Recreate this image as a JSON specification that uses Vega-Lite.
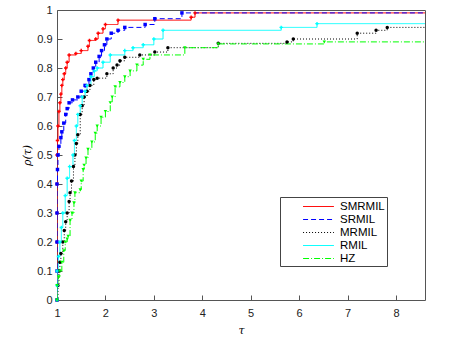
{
  "$schema": "https://vega.github.io/schema/vega-lite/v6.json",
  "width": 368,
  "height": 290,
  "autosize": {"type": "none"},
  "padding": {"left": 57, "top": 10, "right": 31, "bottom": 41},
  "background": "white",
  "config": {
    "view": {"stroke": "#555555", "strokeWidth": 1},
    "font": "Liberation Sans",
    "axis": {"domain": false, "grid": false, "tickColor": "#555555", "labelColor": "#222222", "labelFontSize": 11, "labelFont": "Liberation Sans", "labelOverlap": false}
  },
  "datasets": {
    "pp": [
      {"m":"SMRMIL","t":1.00,"r":0.00},{"m":"SMRMIL","t":1.00,"r":0.10},{"m":"SMRMIL","t":1.00,"r":0.20},{"m":"SMRMIL","t":1.00,"r":0.30},{"m":"SMRMIL","t":1.00,"r":0.40},{"m":"SMRMIL","t":1.00,"r":0.50},{"m":"SMRMIL","t":1.01,"r":0.55},{"m":"SMRMIL","t":1.02,"r":0.60},{"m":"SMRMIL","t":1.04,"r":0.65},{"m":"SMRMIL","t":1.06,"r":0.68},{"m":"SMRMIL","t":1.08,"r":0.71},{"m":"SMRMIL","t":1.10,"r":0.74},{"m":"SMRMIL","t":1.12,"r":0.76},{"m":"SMRMIL","t":1.15,"r":0.78},{"m":"SMRMIL","t":1.18,"r":0.80},{"m":"SMRMIL","t":1.21,"r":0.82},{"m":"SMRMIL","t":1.25,"r":0.845},{"m":"SMRMIL","t":1.39,"r":0.85},{"m":"SMRMIL","t":1.50,"r":0.86},{"m":"SMRMIL","t":1.64,"r":0.875},{"m":"SMRMIL","t":1.67,"r":0.895},{"m":"SMRMIL","t":1.80,"r":0.90},{"m":"SMRMIL","t":1.85,"r":0.92},{"m":"SMRMIL","t":1.95,"r":0.935},{"m":"SMRMIL","t":2.00,"r":0.95},{"m":"SMRMIL","t":2.26,"r":0.965},{"m":"SMRMIL","t":3.77,"r":0.975},{"m":"SMRMIL","t":3.85,"r":0.99},{"m":"SMRMIL","t":8.6,"r":0.99},
      {"m":"SRMIL","t":1.00,"r":0.00},{"m":"SRMIL","t":1.00,"r":0.10},{"m":"SRMIL","t":1.00,"r":0.20},{"m":"SRMIL","t":1.00,"r":0.30},{"m":"SRMIL","t":1.00,"r":0.40},{"m":"SRMIL","t":1.01,"r":0.45},{"m":"SRMIL","t":1.02,"r":0.50},{"m":"SRMIL","t":1.04,"r":0.53},{"m":"SRMIL","t":1.08,"r":0.56},{"m":"SRMIL","t":1.10,"r":0.58},{"m":"SRMIL","t":1.14,"r":0.61},{"m":"SRMIL","t":1.18,"r":0.64},{"m":"SRMIL","t":1.21,"r":0.66},{"m":"SRMIL","t":1.25,"r":0.68},{"m":"SRMIL","t":1.32,"r":0.69},{"m":"SRMIL","t":1.43,"r":0.70},{"m":"SRMIL","t":1.50,"r":0.72},{"m":"SRMIL","t":1.58,"r":0.74},{"m":"SRMIL","t":1.66,"r":0.76},{"m":"SRMIL","t":1.70,"r":0.78},{"m":"SRMIL","t":1.75,"r":0.80},{"m":"SRMIL","t":1.80,"r":0.82},{"m":"SRMIL","t":1.87,"r":0.84},{"m":"SRMIL","t":1.92,"r":0.86},{"m":"SRMIL","t":1.98,"r":0.88},{"m":"SRMIL","t":2.03,"r":0.90},{"m":"SRMIL","t":2.12,"r":0.92},{"m":"SRMIL","t":2.26,"r":0.93},{"m":"SRMIL","t":2.40,"r":0.94},{"m":"SRMIL","t":2.82,"r":0.95},{"m":"SRMIL","t":3.02,"r":0.97},{"m":"SRMIL","t":3.58,"r":0.99},{"m":"SRMIL","t":8.6,"r":0.99},
      {"m":"MRMIL","t":1.00,"r":0.00},{"m":"MRMIL","t":1.02,"r":0.05},{"m":"MRMIL","t":1.04,"r":0.10},{"m":"MRMIL","t":1.06,"r":0.13},{"m":"MRMIL","t":1.08,"r":0.16},{"m":"MRMIL","t":1.12,"r":0.20},{"m":"MRMIL","t":1.15,"r":0.24},{"m":"MRMIL","t":1.18,"r":0.27},{"m":"MRMIL","t":1.21,"r":0.30},{"m":"MRMIL","t":1.25,"r":0.34},{"m":"MRMIL","t":1.27,"r":0.37},{"m":"MRMIL","t":1.30,"r":0.41},{"m":"MRMIL","t":1.34,"r":0.46},{"m":"MRMIL","t":1.37,"r":0.50},{"m":"MRMIL","t":1.40,"r":0.54},{"m":"MRMIL","t":1.43,"r":0.57},{"m":"MRMIL","t":1.48,"r":0.64},{"m":"MRMIL","t":1.52,"r":0.67},{"m":"MRMIL","t":1.56,"r":0.70},{"m":"MRMIL","t":1.62,"r":0.72},{"m":"MRMIL","t":1.68,"r":0.74},{"m":"MRMIL","t":1.76,"r":0.76},{"m":"MRMIL","t":1.83,"r":0.765},{"m":"MRMIL","t":2.03,"r":0.78},{"m":"MRMIL","t":2.16,"r":0.80},{"m":"MRMIL","t":2.24,"r":0.81},{"m":"MRMIL","t":2.30,"r":0.825},{"m":"MRMIL","t":2.40,"r":0.837},{"m":"MRMIL","t":2.71,"r":0.845},{"m":"MRMIL","t":3.02,"r":0.855},{"m":"MRMIL","t":3.29,"r":0.87},{"m":"MRMIL","t":4.33,"r":0.885},{"m":"MRMIL","t":5.75,"r":0.89},{"m":"MRMIL","t":5.88,"r":0.90},{"m":"MRMIL","t":7.20,"r":0.92},{"m":"MRMIL","t":7.59,"r":0.93},{"m":"MRMIL","t":7.82,"r":0.94},{"m":"MRMIL","t":8.6,"r":0.94},
      {"m":"RMIL","t":1.00,"r":0.00},{"m":"RMIL","t":1.00,"r":0.05},{"m":"RMIL","t":1.00,"r":0.10},{"m":"RMIL","t":1.03,"r":0.15},{"m":"RMIL","t":1.06,"r":0.20},{"m":"RMIL","t":1.09,"r":0.25},{"m":"RMIL","t":1.12,"r":0.30},{"m":"RMIL","t":1.17,"r":0.36},{"m":"RMIL","t":1.21,"r":0.42},{"m":"RMIL","t":1.26,"r":0.46},{"m":"RMIL","t":1.33,"r":0.50},{"m":"RMIL","t":1.36,"r":0.55},{"m":"RMIL","t":1.40,"r":0.60},{"m":"RMIL","t":1.43,"r":0.64},{"m":"RMIL","t":1.48,"r":0.67},{"m":"RMIL","t":1.52,"r":0.70},{"m":"RMIL","t":1.58,"r":0.72},{"m":"RMIL","t":1.62,"r":0.74},{"m":"RMIL","t":1.70,"r":0.77},{"m":"RMIL","t":1.77,"r":0.79},{"m":"RMIL","t":1.83,"r":0.80},{"m":"RMIL","t":1.95,"r":0.82},{"m":"RMIL","t":2.10,"r":0.845},{"m":"RMIL","t":2.40,"r":0.86},{"m":"RMIL","t":2.57,"r":0.87},{"m":"RMIL","t":2.78,"r":0.88},{"m":"RMIL","t":3.00,"r":0.90},{"m":"RMIL","t":3.19,"r":0.93},{"m":"RMIL","t":5.63,"r":0.94},{"m":"RMIL","t":6.37,"r":0.953},{"m":"RMIL","t":8.6,"r":0.953},
      {"m":"HZ","t":1.00,"r":0.00},{"m":"HZ","t":1.00,"r":0.05},{"m":"HZ","t":1.03,"r":0.08},{"m":"HZ","t":1.06,"r":0.10},{"m":"HZ","t":1.10,"r":0.13},{"m":"HZ","t":1.14,"r":0.17},{"m":"HZ","t":1.17,"r":0.20},{"m":"HZ","t":1.21,"r":0.21},{"m":"HZ","t":1.23,"r":0.22},{"m":"HZ","t":1.27,"r":0.275},{"m":"HZ","t":1.31,"r":0.30},{"m":"HZ","t":1.35,"r":0.335},{"m":"HZ","t":1.37,"r":0.37},{"m":"HZ","t":1.48,"r":0.38},{"m":"HZ","t":1.50,"r":0.41},{"m":"HZ","t":1.54,"r":0.45},{"m":"HZ","t":1.56,"r":0.465},{"m":"HZ","t":1.60,"r":0.49},{"m":"HZ","t":1.64,"r":0.52},{"m":"HZ","t":1.72,"r":0.545},{"m":"HZ","t":1.79,"r":0.575},{"m":"HZ","t":1.83,"r":0.60},{"m":"HZ","t":1.91,"r":0.63},{"m":"HZ","t":2.00,"r":0.65},{"m":"HZ","t":2.10,"r":0.68},{"m":"HZ","t":2.14,"r":0.70},{"m":"HZ","t":2.20,"r":0.735},{"m":"HZ","t":2.30,"r":0.75},{"m":"HZ","t":2.40,"r":0.77},{"m":"HZ","t":2.51,"r":0.79},{"m":"HZ","t":2.65,"r":0.81},{"m":"HZ","t":2.78,"r":0.83},{"m":"HZ","t":2.92,"r":0.845},{"m":"HZ","t":3.64,"r":0.87},{"m":"HZ","t":4.33,"r":0.883},{"m":"HZ","t":6.52,"r":0.89},{"m":"HZ","t":8.6,"r":0.89}
    ]
  },
  "data": {"name": "pp"},
  "encoding": {
    "x": {"field": "t", "type": "quantitative", "scale": {"domain": [1, 8.6], "nice": false, "zero": false},
          "axis": {"orient": "bottom", "values": [1,2,3,4,5,6,7,8], "tickSize": -5, "labelPadding": 12, "title": "τ", "titleFont": "DejaVu Serif", "titleFontStyle": "italic", "titleFontWeight": "normal", "titleFontSize": 11, "titlePadding": 6, "labelFlush": false, "labelOverlap": false}},
    "y": {"field": "r", "type": "quantitative", "scale": {"domain": [0, 1], "nice": false},
          "axis": {"orient": "left", "values": [0,0.1,0.2,0.3,0.4,0.5,0.6,0.7,0.8,0.9,1], "format": "~g", "tickSize": -5, "labelPadding": 10, "title": "ρ(τ)", "titleFont": "DejaVu Serif", "titleFontStyle": "italic", "titleFontWeight": "normal", "titleFontSize": 11, "titlePadding": 4, "labelFlush": false, "labelOverlap": false}}
  },
  "layer": [
    {
      "mark": {"type": "line", "interpolate": "step-after", "strokeWidth": 1, "clip": true},
      "encoding": {
        "color": {"field": "m", "type": "nominal", "scale": {"domain": ["SMRMIL","SRMIL","MRMIL","RMIL","HZ"], "range": ["#ff0000","#0000ff","#000000","#00ffff","#00ff00"]},
                  "legend": {"title": null, "orient": "none", "legendX": 223, "legendY": 187, "symbolType": "M-2.3,0H2.3", "symbolSize": 180, "symbolStrokeWidth": 1, "symbolOffset": 29, "labelFontSize": 11.5, "labelColor": "#000000", "strokeColor": "#444444", "fillColor": "white", "padding": 2, "rowPadding": 0, "labelOffset": 14}},
        "strokeDash": {"field": "m", "type": "nominal", "scale": {"domain": ["SMRMIL","SRMIL","MRMIL","RMIL","HZ"], "range": [[1,0],[5,3],[1,2],[1,0],[6,2,1,2]]},
                  "legend": {"title": null, "orient": "none", "legendX": 223, "legendY": 187, "symbolType": "M-2.3,0H2.3", "symbolSize": 180, "labelFontSize": 11.5}}
      }
    },
    {
      "transform": [{"filter": "datum.t < 8.5"}],
      "mark": {"type": "point", "filled": true, "size": 12, "opacity": 1},
      "encoding": {
        "color": {"field": "m", "type": "nominal", "legend": null},
        "shape": {"field": "m", "type": "nominal", "scale": {"domain": ["SMRMIL","SRMIL","MRMIL","RMIL","HZ"], "range": ["cross","square","circle","cross","triangle-down"]}, "legend": null}
      }
    }
  ],
  "resolve": {"legend": {"color": "independent", "shape": "independent", "strokeDash": "independent"}}
}
